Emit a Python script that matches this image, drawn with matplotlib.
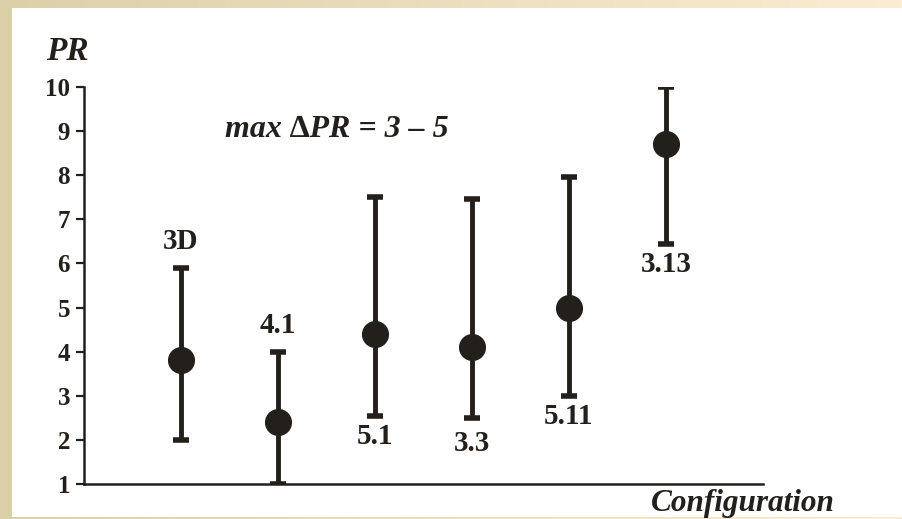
import numpy as np
import matplotlib
matplotlib.use('Agg')
from matplotlib import pyplot as plt
from matplotlib.patches import Rectangle

# configurations and PR values (mean, min, max)
configs = ['3D', '4.1', '5.1', '3.3', '5.11', '3.13']
pr_mean = [3.8, 2.4, 4.4, 4.1, 5.0, 8.7]
pr_low = [2.0, 1.0, 2.55, 2.5, 3.0, 6.45]
pr_high = [5.9, 4.0, 7.5, 7.45, 7.95, 10.0]
yticks = [1, 2, 3, 4, 5, 6, 7, 8, 9, 10]

# label placement: above (+) or below (-) the bar, offset in points
label_side = [1, 1, -1, -1, -1, -1]
label_gap = [9, 9, 5, 9, 5, 5]

ink = '#231f1a'
serif = ['Liberation Serif', 'DejaVu Serif']
plt.rcParams['font.family'] = serif
plt.rcParams['font.weight'] = 'bold'

fig = plt.figure(figsize=(9.03, 5.19), dpi=100)

# beige frame with a gradient along the top, white panel inside
bg = fig.add_axes([0, 0, 1, 1], zorder=-10)
bg.set_axis_off()
grad = np.linspace(0, 1, 256)
c0 = np.array([0xdc, 0xd0, 0xa9]) / 255
c1 = np.array([0xfc, 0xec, 0xd2]) / 255
img = c0[None, :] * (1 - grad[:, None]) + c1[None, :] * grad[:, None]
bg.imshow(img[None, :, :], aspect='auto', extent=[0, 1, 0, 1])
bg.add_patch(Rectangle((12 / 903, 2 / 519), 1, 1 - 10 / 519, color='white', lw=0))
bg.add_patch(Rectangle((0, 0), 12 / 903, 1, color=c0, lw=0))
bg.set_xlim(0, 1)
bg.set_ylim(0, 1)

ax = fig.add_axes([84 / 903, 1 - 484 / 519, (763 - 84) / 903, (484 - 87) / 519])
ax.patch.set_alpha(0)

xs = np.arange(1, len(configs) + 1)
mean = np.array(pr_mean)
yerr = [mean - np.array(pr_low), np.array(pr_high) - mean]
ax.errorbar(xs, mean, yerr=yerr, fmt='o', color=ink, ecolor=ink,
            markersize=18.5, elinewidth=3.5, capsize=6, capthick=4)

for x, lab, lo, hi, side, gap in zip(xs, configs, pr_low, pr_high,
                                      label_side, label_gap):
    if side > 0:
        ax.annotate(lab, (x, hi), xytext=(0, gap), textcoords='offset points',
                    ha='center', va='bottom', fontsize=21, color=ink,
                    fontweight='bold')
    else:
        ax.annotate(lab, (x, lo), xytext=(0, -gap), textcoords='offset points',
                    ha='center', va='top', fontsize=21, color=ink,
                    fontweight='bold')

ax.set_xlim(0, 7)
ax.set_ylim(1, 10)
ax.set_yticks(yticks)
ax.set_yticklabels([str(t) for t in yticks], fontsize=18, fontweight='bold',
                   color=ink)
ax.set_xticks([])
ax.tick_params(axis='y', direction='out', length=6, width=1.6, color=ink, pad=4)
for s in ['top', 'right']:
    ax.spines[s].set_visible(False)
for s in ['left', 'bottom']:
    ax.spines[s].set_color(ink)
    ax.spines[s].set_linewidth(1.8)

ax.text(1.45, 9.03, 'max \u2206PR = 3 \u2013 5', fontsize=23, fontstyle='italic',
        fontweight='bold', color=ink, va='center', ha='left')
fig.text(67 / 903, 1 - 52 / 519, 'PR', fontsize=24, fontstyle='italic',
         fontweight='bold', color=ink, ha='center', va='center')
fig.text(835 / 903, 1 - 503 / 519, 'Configuration', fontsize=22.5,
         fontstyle='italic', fontweight='bold', color=ink, ha='right',
         va='center')

fig.savefig('out.png', dpi=100)
